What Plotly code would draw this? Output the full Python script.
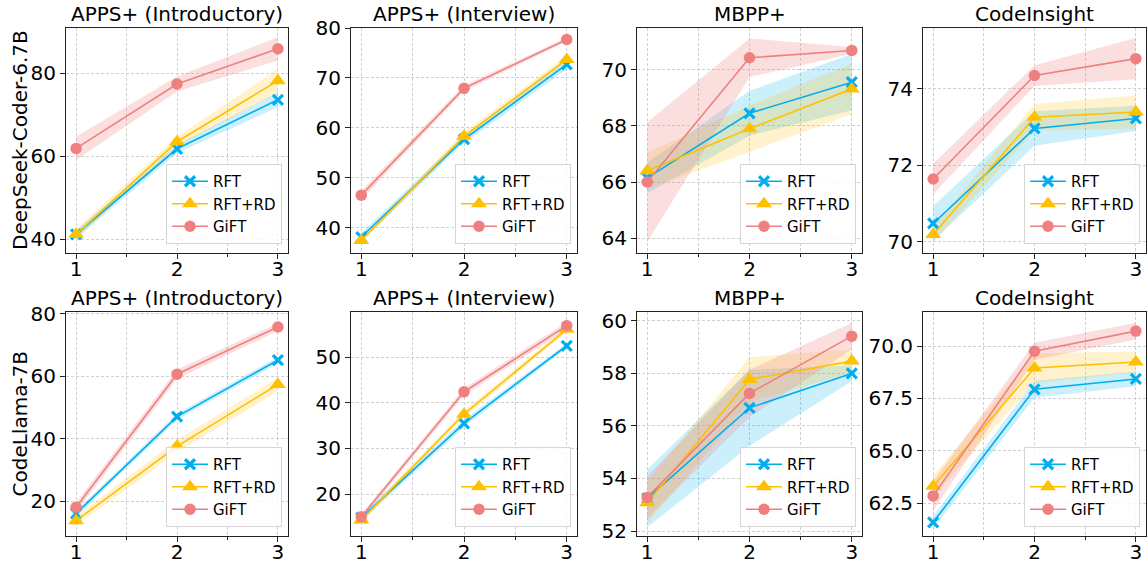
import plotly.graph_objects as go

W, H = 1148, 561

x_steps = [1, 2, 3]
titles = ["APPS+ (Introductory)", "APPS+ (Interview)", "MBPP+", "CodeInsight"]
models = ["DeepSeek-Coder-6.7B", "CodeLlama-7B"]
methods = ["RFT", "RFT+RD", "GiFT"]

# DeepSeek-Coder-6.7B: one list per benchmark (Intro, Interview, MBPP+, CodeInsight)
ds_rft_mean = [[41.2, 61.8, 73.6], [38.1, 57.7, 72.7], [66.15, 68.45, 69.56], [70.48, 72.96, 73.22]]
ds_rd_mean = [[41.2, 63.5, 78.2], [37.4, 58.3, 73.7], [66.4, 67.9, 69.32], [70.19, 73.25, 73.39]]
ds_gift_mean = [[61.9, 77.4, 85.9], [46.5, 67.9, 77.7], [66.0, 70.43, 70.69], [71.64, 74.34, 74.78]]
ds_rft_std = [[1.0, 1.0, 1.8], [0.8, 0.8, 1.0], [0.55, 0.8, 1.0], [0.45, 0.45, 0.33]]
ds_rd_std = [[1.2, 1.2, 2.8], [0.5, 0.8, 0.8], [0.65, 0.83, 0.9], [0.2, 0.35, 0.43]]
ds_gift_std = [[2.8, 1.8, 2.8], [0.9, 0.6, 0.4], [2.13, 0.69, 0.12], [0.4, 0.27, 0.54]]

# CodeLlama-7B
cl_rft_mean = [[16.0, 47.0, 65.1], [14.8, 35.5, 52.5], [53.24, 56.69, 58.0], [61.6, 67.94, 68.43]]
cl_rd_mean = [[13.7, 37.5, 57.3], [14.3, 37.5, 56.1], [53.08, 57.77, 58.47], [63.32, 68.95, 69.24]]
cl_gift_mean = [[18.0, 60.6, 75.7], [15.0, 42.4, 56.9], [53.28, 57.24, 59.42], [62.86, 69.75, 70.71]]
cl_rft_std = [[1.0, 1.0, 1.0], [0.8, 0.8, 0.5], [1.1, 1.45, 0.3], [0.3, 0.4, 0.35]]
cl_rd_std = [[1.5, 2.0, 2.2], [0.6, 0.8, 0.6], [0.8, 0.85, 0.45], [0.5, 0.7, 0.5]]
cl_gift_std = [[1.5, 1.5, 1.2], [0.6, 0.8, 0.8], [0.8, 0.9, 0.5], [0.7, 0.4, 0.4]]

y_ranges = [[[36.7, 90.9], [34.9, 80.0], [63.47, 71.49], [69.71, 75.58]],
            [[8.8, 80.5], [10.8, 59.9], [51.81, 60.34], [60.95, 71.62]]]
y_dticks = [[20, 10, 2, 2], [20, 10, 2, 2.5]]

colors = {"RFT": "#00AEEF", "RFT+RD": "#FFC000", "GiFT": "#F08080"}
fills = {"RFT": "rgba(0,174,239,0.2)", "RFT+RD": "rgba(255,192,0,0.2)", "GiFT": "rgba(240,128,128,0.25)"}

col_px = [(66, 288), (351, 577), (637, 862), (923, 1146)]
row_px = [(28, 253), (312, 536)]

FONT = "DejaVu Sans"
fig = go.Figure()

data = [
    [ds_rft_mean, ds_rd_mean, ds_gift_mean, ds_rft_std, ds_rd_std, ds_gift_std],
    [cl_rft_mean, cl_rd_mean, cl_gift_mean, cl_rft_std, cl_rd_std, cl_gift_std],
]

layout = {}
annotations = []
for r in range(2):
    means = data[r][:3]
    stds = data[r][3:]
    for c in range(4):
        idx = r * 4 + c + 1
        sfx = "" if idx == 1 else str(idx)
        xa, ya = "x" + sfx, "y" + sfx
        leg = "legend" + sfx
        for m, meth in enumerate(methods):
            mu = means[m][c]
            sd = stds[m][c]
            up = [a + b for a, b in zip(mu, sd)]
            lo = [a - b for a, b in zip(mu, sd)]
            fig.add_trace(go.Scatter(
                x=x_steps + x_steps[::-1], y=up + lo[::-1], fill="toself",
                fillcolor=fills[meth], line=dict(width=0), mode="lines",
                hoverinfo="skip", showlegend=False, xaxis=xa, yaxis=ya))
        for m, meth in enumerate(methods):
            mu = means[m][c]
            if meth == "RFT":
                mk = dict(symbol="x-thin", size=10, color=colors[meth],
                          line=dict(width=3.2, color=colors[meth]))
            elif meth == "RFT+RD":
                mk = dict(symbol="triangle-up", size=14, color=colors[meth], line=dict(width=0))
            else:
                mk = dict(symbol="circle", size=11.5, color=colors[meth], line=dict(width=0))
            fig.add_trace(go.Scatter(
                x=x_steps, y=mu, mode="lines+markers", name=meth,
                line=dict(color=colors[meth], width=1.6), marker=mk,
                xaxis=xa, yaxis=ya, legend=leg, showlegend=True))
        x0, x1 = col_px[c]
        y0, y1 = row_px[r]
        common = dict(showline=True, linecolor="#222", linewidth=1, mirror=True,
                      ticks="outside", ticklen=5, tickcolor="#222", automargin=False,
                      showgrid=True, gridcolor="#d0d0d0", griddash="3px,2px", gridwidth=1,
                      zeroline=False, tickfont=dict(size=20, family=FONT, color="#000"))
        layout["xaxis" + sfx] = dict(
            domain=[x0 / W, x1 / W], anchor=ya, range=[0.9, 3.1],
            tickvals=x_steps, ticktext=["1", "2", "3"], ticklabelstandoff=-7,
            minor=dict(tickvals=[1.5, 2.5], ticks="outside", ticklen=3, tickcolor="#222",
                       showgrid=True, gridcolor="#d0d0d0", griddash="3px,2px"),
            **common)
        yd = dict(domain=[1 - y1 / H, 1 - y0 / H], anchor=xa,
                  range=y_ranges[r][c], dtick=y_dticks[r][c], **common)
        if y_dticks[r][c] == 2.5:
            yd["tickformat"] = ".1f"
        layout["yaxis" + sfx] = yd
        layout[leg] = dict(
            x=(x1 - 6) / W, xanchor="right", y=1 - (y1 - 9) / H, yanchor="bottom",
            bgcolor="rgba(255,255,255,0.85)", bordercolor="#d5d5d5", borderwidth=1,
            font=dict(size=15, family=FONT, color="#000"), tracegroupgap=0,
            itemwidth=36)
        annotations.append(dict(
            text=titles[c], x=(x0 + x1) / 2 / W, y=1 - y0 / H,
            xref="paper", yref="paper", xanchor="center", yanchor="bottom",
            showarrow=False, font=dict(size=20, family=FONT, color="#000")))
    y0, y1 = row_px[r]
    annotations.append(dict(
        text=models[r], x=19.5 / W, y=1 - (y0 + y1) / 2 / H,
        xref="paper", yref="paper", xanchor="center", yanchor="middle",
        textangle=-90, showarrow=False, font=dict(size=20, family=FONT, color="#000")))

fig.update_layout(
    width=W, height=H, margin=dict(l=0, r=0, t=0, b=0),
    paper_bgcolor="white", plot_bgcolor="white",
    font=dict(family=FONT, color="#000"),
    annotations=annotations, **layout)

fig.write_html(
    "out.html",
    config={"displayModeBar": False},
    post_script=("document.documentElement.style.margin='0';"
                 "document.body.style.margin='0';document.body.style.overflow='hidden';"
                 "var gd=document.getElementById('{plot_id}');"
                 "gd.style.position='fixed';gd.style.left='0px';gd.style.top='0px';"))
